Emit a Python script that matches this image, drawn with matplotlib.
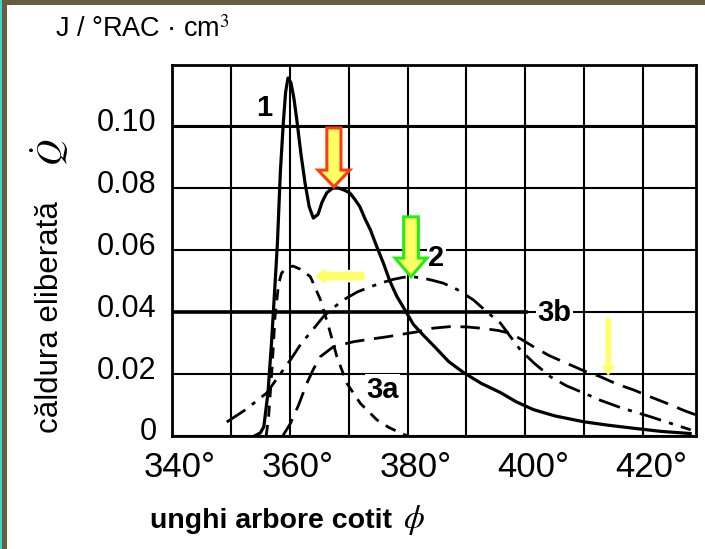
import matplotlib
matplotlib.use('Agg')
import matplotlib.pyplot as plt
from matplotlib.patches import Polygon, Rectangle
from matplotlib.transforms import ScaledTranslation

plt.rcParams['font.family'] = ['Liberation Sans', 'DejaVu Sans']
plt.rcParams['mathtext.fontset'] = 'stix'

# curba 1 (linie continua)
phi1 = [354.0, 355.0, 355.6, 356.3, 356.9, 357.5, 357.9, 358.4, 358.9, 359.3, 359.7,
        360.2, 360.7, 361.2, 361.9, 362.6, 363.3, 364.0, 364.8, 365.5, 366.3, 367.3,
        368.3, 369.3, 370.2, 371.0, 371.9, 372.8, 373.7, 374.8, 375.9, 377.0, 378.2,
        379.3, 381.0, 382.7, 384.5, 387.0, 389.5, 392.5, 395.8, 398.5, 401.4, 405.0,
        409.9, 414.0, 418.4, 423.0, 428.0]
q1 = [0.0, 0.001, 0.003, 0.014, 0.030, 0.049, 0.062, 0.085, 0.101, 0.111, 0.1155,
      0.114, 0.109, 0.102, 0.091, 0.0816, 0.074, 0.0703, 0.0715, 0.0755, 0.0785, 0.0800,
      0.0800, 0.0793, 0.0784, 0.0765, 0.074, 0.070, 0.0665, 0.061, 0.0558, 0.050, 0.045,
      0.0415, 0.036, 0.0325, 0.029, 0.024, 0.0205, 0.017, 0.014, 0.011, 0.0085, 0.0065,
      0.0046, 0.0035, 0.0025, 0.0015, 0.0008]

# curba 2 (linie-punct)
phi2 = [349.3, 352.5, 356.1, 358.0, 360.1, 362.0, 363.8, 365.7, 367.5, 369.1, 371.5,
        373.5, 375.4, 377.5, 379.3, 380.5, 382.5, 384.3, 386.1, 388.5, 391.2, 393.5,
        395.8, 397.5, 399.2, 401.5, 404.3, 407.0, 409.9, 412.8, 415.7, 418.5, 421.3,
        424.5, 428.1]
q2 = [0.0045, 0.0085, 0.0139, 0.019, 0.0245, 0.030, 0.034, 0.0385, 0.0415, 0.0439, 0.0465,
      0.048, 0.0493, 0.0505, 0.0512, 0.0514, 0.0510, 0.0502, 0.0493, 0.0472, 0.0439, 0.040,
      0.0364, 0.032, 0.0277, 0.0235, 0.0191, 0.0162, 0.0139, 0.0115, 0.0095, 0.0078, 0.0062,
      0.0042, 0.002]

# curba 3a (linie intrerupta scurta)
phi3a = [356.0, 356.4, 357.0, 357.5, 358.1, 358.6, 359.5, 360.6, 361.8, 363.5, 365.2,
         366.6, 368.0, 369.7, 372.0, 374.8, 376.8, 378.8, 380.0]
q3a = [0.0, 0.006, 0.022, 0.0385, 0.049, 0.0525, 0.0545, 0.0548, 0.0538, 0.0514, 0.044,
       0.0353, 0.0256, 0.017, 0.0105, 0.0052, 0.0028, 0.001, 0.0]

# curba 3b (linie intrerupta lunga)
phi3b = [358.8, 360.1, 361.5, 362.9, 364.0, 365.2, 367.4, 370.8, 373.5, 376.5, 379.0,
         381.6, 384.4, 387.3, 390.0, 392.9, 395.5, 397.5, 399.5, 401.4, 404.0, 407.1,
         410.0, 412.8, 415.5, 418.5, 421.3, 424.1, 427.0, 429.0]
q3b = [0.0, 0.004, 0.010, 0.017, 0.0215, 0.0256, 0.0288, 0.0304, 0.0312, 0.032, 0.0328,
       0.0336, 0.0348, 0.0353, 0.0352, 0.0347, 0.034, 0.0331, 0.031, 0.0288, 0.026, 0.0234,
       0.021, 0.0191, 0.0168, 0.0148, 0.0126, 0.0105, 0.0082, 0.0068]

xticks = [340, 360, 380, 400, 420]
xticklabels = ['340°', '360°', '380°', '400°', '420°']
yticks = [0, 0.02, 0.04, 0.06, 0.08, 0.10]
yticklabels = ['0', '0.02', '0.04', '0.06', '0.08', '0.10']

fig = plt.figure(figsize=(7.05, 5.49), dpi=100)
ax = fig.add_axes([172 / 705, 1 - 436 / 549, (696 - 172) / 705, (436 - 65) / 549])

ax.set_xlim(340, 429)
ax.set_ylim(0, 0.1197)
ax.set_xticks(xticks)
ax.set_xticklabels(xticklabels, fontsize=25)
ax.set_xticks(range(350, 430, 20), minor=True)
ax.set_yticks(yticks)
ax.set_yticklabels(yticklabels, fontsize=22)
ax.tick_params(which='both', length=0)
ax.tick_params(axis='x', pad=11)
ax.tick_params(axis='y', pad=11)
ax.grid(which='both', color='black', lw=1.5)
ax.set_axisbelow(True)
for s in ax.spines.values():
    s.set_linewidth(2)

# mic decalaj al etichetelor ca in original
for lab in ax.get_yticklabels():
    lab.set_transform(lab.get_transform() + ScaledTranslation(0, 0.07, fig.dpi_scale_trans))
for lab in ax.get_xticklabels():
    lab.set_transform(lab.get_transform() + ScaledTranslation(0.08, 0, fig.dpi_scale_trans))

ax.axhline(0.10, color='black', lw=2.2, zorder=1)
ax.plot([340, 400.2], [0.04, 0.04], color='black', lw=2.6, zorder=1)

ax.plot(phi1, q1, color='black', lw=2.3)
ax.plot(phi2, q2, color='black', lw=2.0, dashes=(8, 3, 1.5, 3))
ax.plot(phi3a, q3a, color='black', lw=2.0, dashes=(4, 3))
ax.plot(phi3b, q3b, color='black', lw=2.0, dashes=(7, 3.5))

lbl = dict(fontsize=21, fontweight='bold', ha='center', va='center')
wb = dict(facecolor='white', edgecolor='none', pad=1)
ax.text(355.6, 0.1058, '1', **lbl)
ax.text(384.9, 0.0574, '2', bbox=wb, **lbl)
ax.text(405.0, 0.0397, '3b', bbox=wb, **lbl)
ax.text(375.8, 0.0150, '3a', bbox=wb, **lbl)


def down_arrow(x, y0, y1, sw, hw, hl, fc, ec, lw):
    pts = [(x - sw, y0), (x + sw, y0), (x + sw, y1 + hl), (x + hw, y1 + hl),
           (x, y1), (x - hw, y1 + hl), (x - sw, y1 + hl)]
    ax.add_patch(Polygon(pts, closed=True, facecolor=fc, edgecolor=ec, lw=lw, zorder=5))


down_arrow(367.5, 0.0994, 0.0804, 1.2, 2.7, 0.0054, '#ffff66', '#ff3c10', 2.2)
down_arrow(380.6, 0.0707, 0.0514, 1.25, 2.7, 0.006, '#ffff66', '#22ee11', 2.2)
down_arrow(414.1, 0.038, 0.0197, 0.5, 1.2, 0.003, '#ffff66', '#ffffcc', 0.6)

# sageata galbena orizontala
ya = 0.0516
pts = [(372.8, ya + 0.0017), (366.3, ya + 0.0017), (366.3, ya + 0.0032), (364.0, ya),
       (366.3, ya - 0.0032), (366.3, ya - 0.0017), (372.8, ya - 0.0017)]
ax.add_patch(Polygon(pts, closed=True, facecolor='#ffff66', edgecolor='white', lw=1.5, zorder=5))

fig.text(55 / 705, 1 - 30 / 549, 'J / °RAC · cm$^3$', fontsize=19.5, ha='left', va='center')
fig.text(50 / 705, 1 - 317 / 549, 'căldura eliberată', fontsize=22.5, rotation=90,
         ha='center', va='center')
fig.text(50 / 705, 1 - 152 / 549, r'$\dot{Q}$', fontsize=26, rotation=90,
         ha='center', va='center')
fig.text(150 / 705, 1 - 521 / 549, 'unghi arbore cotit', fontsize=20.5, fontweight='bold',
         ha='left', va='center')
fig.text(403 / 705, 1 - 520 / 549, r'$\phi$', fontsize=24, ha='left', va='center')

# chenarul imaginii
fig.patches.append(Rectangle((0, 1 - 5 / 549), 1, 5 / 549, transform=fig.transFigure,
                             facecolor='#675d42', edgecolor='none'))
fig.patches.append(Rectangle((0, 0), 7 / 705, 1, transform=fig.transFigure,
                             facecolor='#675d42', edgecolor='none'))
fig.patches.append(Rectangle((0, 0), 1.5 / 705, 1, transform=fig.transFigure,
                             facecolor='#3fd6c8', edgecolor='none'))

fig.savefig('out.png', dpi=100)
